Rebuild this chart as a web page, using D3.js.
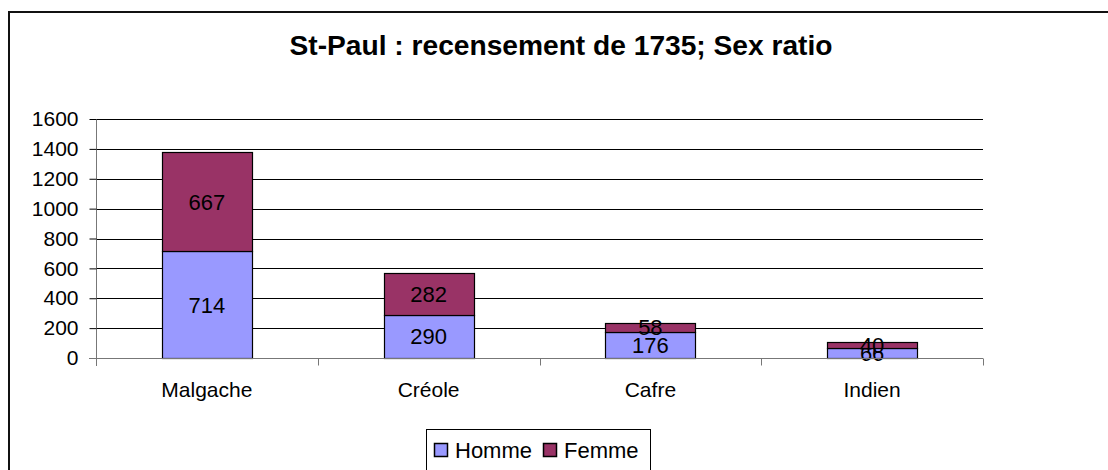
<!DOCTYPE html>
<html>
<head>
<meta charset="utf-8">
<script src="https://cdn.jsdelivr.net/npm/d3@7"></script>
<style>
  body { margin: 0; background: #fff; }
  svg { display: block; font-family: "Liberation Sans", Arial, sans-serif; }
</style>
</head>
<body>
<svg id="chart" width="1108" height="470"></svg>
<script>
// data
const categories = ['Malgache', 'Créole', 'Cafre', 'Indien']
const homme = [714, 290, 176, 66]
const femme = [667, 282, 58, 40]
const seriesNames = ['Homme', 'Femme']
const yTicks = [0, 200, 400, 600, 800, 1000, 1200, 1400, 1600]

const COLORS = { Homme: '#9999ff', Femme: '#993366' }
const FONT = '"Liberation Sans", Arial, sans-serif'

const svg = d3.select('#chart')

// outer frame (runs off right and bottom)
svg.append('rect')
  .attr('x', 9).attr('y', 12)
  .attr('width', 1130).attr('height', 480)
  .attr('fill', 'none').attr('stroke', '#111').attr('stroke-width', 2)

svg.append('text')
  .attr('x', 561).attr('y', 55)
  .attr('text-anchor', 'middle')
  .attr('font-size', 27).attr('font-weight', 'bold')
  .attr('textLength', 543).attr('lengthAdjust', 'spacingAndGlyphs')
  .text('St-Paul : recensement de 1735; Sex ratio')

const x = d3.scaleBand()
  .domain(categories)
  .range([96, 983])
  .paddingInner(0.594)
  .paddingOuter(0.297)

const y = d3.scaleLinear().domain([0, 1600]).range([358, 119])

// gridlines
svg.append('g')
  .selectAll('line')
  .data(yTicks.filter(d => d > 0))
  .join('line')
  .attr('x1', 96).attr('x2', 983)
  .attr('y1', d => Math.round(y(d)) + 0.5).attr('y2', d => Math.round(y(d)) + 0.5)
  .attr('stroke', '#000')

// stacked data
const table = categories.map((c, i) => ({ cat: c, Homme: homme[i], Femme: femme[i] }))
const stacked = d3.stack().keys(seriesNames)(table)

const layers = svg.append('g').selectAll('g')
  .data(stacked)
  .join('g')
  .attr('fill', d => COLORS[d.key])

layers.selectAll('rect')
  .data(d => d)
  .join('rect')
  .attr('x', d => Math.round(x(d.data.cat)) + 0.5)
  .attr('width', Math.round(x.bandwidth()))
  .attr('y', d => Math.round(y(d[1])) + 0.5)
  .attr('height', d => Math.round(y(d[0])) - Math.round(y(d[1])))
  .attr('stroke', '#000')
  .attr('stroke-width', 1.2)

// value labels
layers.selectAll('text')
  .data(d => d.map(v => ({ v, key: d.key })))
  .join('text')
  .attr('x', d => x(d.v.data.cat) + x.bandwidth() / 2)
  .attr('y', d => (y(d.v[0]) + y(d.v[1])) / 2 + 8)
  .attr('text-anchor', 'middle')
  .attr('font-size', 22)
  .attr('fill', '#000')
  .text(d => d.v.data[d.key])

// y axis
const yAxis = svg.append('g')
  .attr('transform', 'translate(96.5,0)')
  .call(d3.axisLeft(y).tickValues(yTicks).tickSize(7).tickPadding(11).tickFormat(d3.format('d')))
yAxis.select('.domain').attr('stroke', '#777').attr('d', `M0,119V366`)
yAxis.selectAll('.tick line').attr('stroke', '#000')
yAxis.selectAll('.tick text').attr('font-size', 21).attr('fill', '#000')
  .attr('font-family', FONT)

// x axis
const xAxis = svg.append('g')
  .attr('transform', 'translate(0,358.5)')
  .call(d3.axisBottom(x).tickSize(0).tickPadding(24))
xAxis.select('.domain').attr('stroke', '#777').attr('d', 'M89,0H983')
xAxis.selectAll('.tick text').attr('font-size', 21).attr('fill', '#000')
  .attr('font-family', FONT)
// separators between categories
const seps = categories.map(c => x(c) - x.step() * x.paddingOuter()).concat([983])
xAxis.append('g').selectAll('line')
  .data(seps.slice(1))
  .join('line')
  .attr('x1', d => Math.round(d) + 0.5).attr('x2', d => Math.round(d) + 0.5)
  .attr('y1', 0).attr('y2', 7)
  .attr('stroke', '#777')

// legend
const legend = svg.append('g')
legend.append('rect')
  .attr('x', 426.5).attr('y', 429.5)
  .attr('width', 224).attr('height', 60)
  .attr('fill', '#fff').attr('stroke', '#000')
const items = legend.selectAll('g.item')
  .data(seriesNames)
  .join('g')
  .attr('class', 'item')
  .attr('transform', (d, i) => `translate(${[434, 543][i]},0)`)
items.append('rect')
  .attr('x', 0.5).attr('y', 443.5)
  .attr('width', 13).attr('height', 13)
  .attr('fill', d => COLORS[d]).attr('stroke', '#000').attr('stroke-width', 1.5)
items.append('text')
  .attr('x', 21).attr('y', 458)
  .attr('font-size', 22)
  .text(d => d)
</script>
</body>
</html>
